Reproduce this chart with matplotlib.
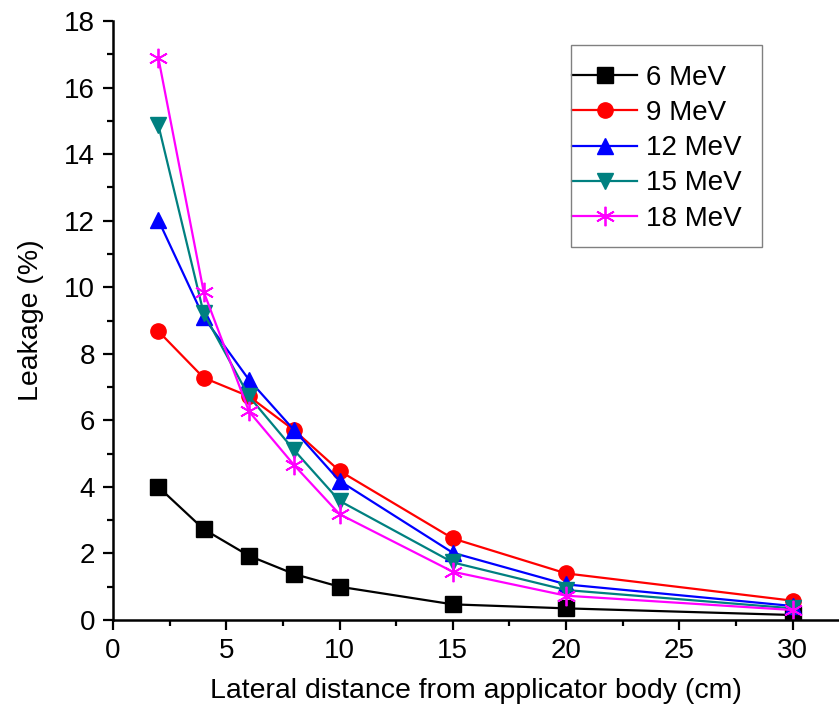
import matplotlib
matplotlib.use("Agg")
import matplotlib.pyplot as plt
from matplotlib.ticker import MultipleLocator
from matplotlib.patches import Rectangle

# Data
distance = [2, 4, 6, 8, 10, 15, 20, 30]
mev6 = [4.0, 2.73, 1.93, 1.38, 1.0, 0.47, 0.35, 0.15]
mev9 = [8.68, 7.28, 6.72, 5.7, 4.48, 2.45, 1.4, 0.58]
mev12 = [12.02, 9.1, 7.22, 5.7, 4.18, 2.02, 1.07, 0.42]
mev15 = [14.88, 9.22, 6.72, 5.1, 3.58, 1.73, 0.9, 0.35]
mev18 = [16.9, 9.87, 6.27, 4.65, 3.18, 1.45, 0.73, 0.3]

series = [
    (mev6, "6 MeV", "black", "s"),
    (mev9, "9 MeV", "#ff0000", "o"),
    (mev12, "12 MeV", "#0000ff", "^"),
    (mev15, "15 MeV", "#008080", "v"),
    (mev18, "18 MeV", "#ff00ff", "*"),
]

plt.rcParams["font.family"] = ["Liberation Sans", "DejaVu Sans"]

fig = plt.figure(figsize=(8.39, 7.09), dpi=100)
ax = fig.add_axes([113/839, 1-620/709, 725/839, 599/709])

for vals, lab, col, mk in series:
    if mk == "*":
        ax.plot(distance, vals, color=col, lw=1.6, marker=(6, 2, 0), ms=14,
                mew=1.3, mec=col, label=lab)
    else:
        ax.plot(distance, vals, color=col, lw=1.6, marker=mk, ms=11,
                mec=col, mfc=col, label=lab)

ax.set_xlim(0, 32)
ax.set_ylim(0, 18)
ax.xaxis.set_major_locator(MultipleLocator(5))
ax.xaxis.set_minor_locator(MultipleLocator(2.5))
ax.yaxis.set_major_locator(MultipleLocator(2))
ax.yaxis.set_minor_locator(MultipleLocator(1))

for side in ["top", "right"]:
    ax.spines[side].set_visible(False)
for side in ["left", "bottom"]:
    ax.spines[side].set_linewidth(1.8)

ax.tick_params(which="major", direction="out", length=7, width=1.6,
               labelsize=20, pad=6)
ax.tick_params(which="minor", direction="out", length=4, width=1.6)

ax.set_xlabel("Lateral distance from applicator body (cm)", fontsize=20.5, labelpad=10)
ax.set_ylabel("Leakage (%)", fontsize=20.5, labelpad=14)

# Legend: entries without frame, box drawn separately (tight sides, loose top/bottom)
leg = ax.legend(loc="upper left", bbox_to_anchor=(572/839, 1-65/709),
                bbox_transform=fig.transFigure, borderaxespad=0, borderpad=0,
                fontsize=20, handlelength=2.35, labelspacing=0.33,
                handletextpad=0.3, frameon=False)
fig.patches.append(Rectangle((571/839, 1-247/709), 191/839, 202/709,
                             transform=fig.transFigure, fill=False,
                             edgecolor="gray", lw=1.0))

fig.savefig("out.png", dpi=100)
